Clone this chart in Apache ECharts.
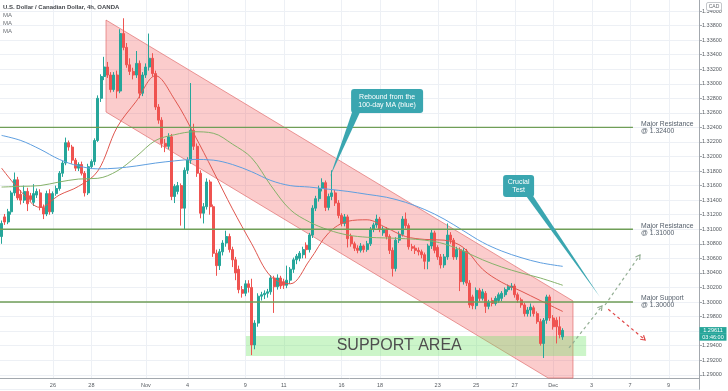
<!DOCTYPE html>
<html>
<head>
<meta charset="utf-8">
<script src="https://cdn.jsdelivr.net/npm/echarts@6.0.0/dist/echarts.min.js"></script>
<style>
html,body{margin:0;padding:0;background:#ffffff;}
#chart{width:728px;height:391px;}
</style>
</head>
<body>
<div id="chart"></div>
<script>
// ---------------- DATA ----------------
const opens = [
1.3090,1.3117,1.3110,1.3124,1.3150,1.3168,1.3148,1.3140,1.3152,1.3146,
1.3137,1.3147,1.3150,1.3130,1.3121,1.3149,1.3124,1.3149,1.3156,1.3177,
1.3191,1.3219,1.3213,1.3195,1.3184,1.3189,1.3177,1.3150,1.3186,1.3193,
1.3222,1.3280,1.3310,1.3323,1.3312,1.3292,1.3312,1.3290,1.3369,1.3350,
1.3326,1.3317,1.3312,1.3328,1.3287,1.3312,1.3323,1.3335,1.3314,1.3268,
1.3250,1.3218,1.3214,1.3227,1.3145,1.3152,1.3160,1.3129,1.3181,1.3195,
1.3236,1.3214,1.3177,1.3122,1.3131,1.3165,1.3131,1.3067,1.3050,1.3069,
1.3081,1.3090,1.3072,1.3058,1.3045,1.3017,1.3012,1.3025,1.3020,1.2941,
1.2971,1.3008,1.3010,1.3012,1.3014,1.3033,1.3021,1.3033,1.3028,1.3023,
1.3030,1.3045,1.3058,1.3060,1.3065,1.3078,1.3072,1.3092,1.3129,1.3142,
1.3156,1.3164,1.3130,1.3145,1.3150,1.3136,1.3119,1.3108,1.3117,1.3090,
1.3080,1.3074,1.3071,1.3077,1.3072,1.3080,1.3100,1.3106,1.3114,1.3095,
1.3100,1.3090,1.3071,1.3046,1.3085,1.3093,1.3114,1.3105,1.3076,1.3074,
1.3071,1.3069,1.3065,1.3056,1.3077,1.3095,1.3075,1.3062,1.3051,1.3062,
1.3092,1.3085,1.3062,1.3072,1.3028,1.3070,1.3026,1.3007,1.2995,1.3016,
1.3005,1.3012,1.2994,1.3002,1.2998,1.3002,1.3005,1.3010,1.3017,1.3020,
1.3022,1.3010,1.3003,1.2996,1.2984,1.2989,1.2992,1.2984,1.2973,1.2943,
1.2975,1.3007,1.2978,1.2975,1.2966,1.2952];
const closes = [
1.3108,1.3110,1.3124,1.3150,1.3168,1.3143,1.3140,1.3152,1.3135,1.3141,
1.3149,1.3152,1.3130,1.3121,1.3149,1.3124,1.3149,1.3156,1.3177,1.3191,
1.3219,1.3213,1.3195,1.3184,1.3189,1.3177,1.3150,1.3186,1.3193,1.3222,
1.3280,1.3310,1.3323,1.3312,1.3292,1.3312,1.3290,1.3369,1.3350,1.3326,
1.3317,1.3312,1.3328,1.3287,1.3312,1.3323,1.3335,1.3314,1.3268,1.3250,
1.3218,1.3214,1.3227,1.3145,1.3159,1.3160,1.3129,1.3181,1.3195,1.3236,
1.3214,1.3177,1.3122,1.3131,1.3165,1.3131,1.3067,1.3050,1.3069,1.3081,
1.3090,1.3072,1.3058,1.3040,1.3017,1.3012,1.3025,1.3020,1.2941,1.2971,
1.3008,1.3010,1.3012,1.3014,1.3033,1.3021,1.3033,1.3022,1.3023,1.3030,
1.3045,1.3058,1.3063,1.3067,1.3072,1.3072,1.3092,1.3129,1.3142,1.3156,
1.3164,1.3130,1.3145,1.3150,1.3136,1.3119,1.3108,1.3117,1.3087,1.3080,
1.3074,1.3071,1.3077,1.3072,1.3080,1.3100,1.3106,1.3114,1.3100,1.3100,
1.3090,1.3071,1.3046,1.3085,1.3093,1.3114,1.3105,1.3076,1.3074,1.3071,
1.3069,1.3065,1.3056,1.3077,1.3095,1.3071,1.3062,1.3051,1.3062,1.3092,
1.3085,1.3062,1.3072,1.3028,1.3070,1.3026,1.2996,1.2995,1.3016,1.3005,
1.3014,1.2994,1.3000,1.2998,1.3005,1.3010,1.3012,1.3017,1.3021,1.3022,
1.3010,1.3003,1.2996,1.2984,1.2989,1.2993,1.2984,1.2973,1.2943,1.2975,
1.3007,1.2978,1.2966,1.2966,1.2955,1.2961];
const highs = [
1.3112,1.3121,1.3128,1.3153,1.3178,1.3172,1.3154,1.3160,1.3157,1.3150,
1.3162,1.3156,1.3155,1.3134,1.3153,1.3155,1.3152,1.3160,1.3180,1.3194,
1.3226,1.3222,1.3216,1.3198,1.3192,1.3193,1.3180,1.3190,1.3196,1.3225,
1.3284,1.3313,1.3337,1.3330,1.3316,1.3316,1.3318,1.3375,1.3390,1.3356,
1.3335,1.3322,1.3345,1.3332,1.3316,1.3328,1.3369,1.3342,1.3318,1.3272,
1.3254,1.3224,1.3232,1.3231,1.3162,1.3165,1.3163,1.3185,1.3199,1.3301,
1.3245,1.3218,1.3181,1.3136,1.3170,1.3168,1.3134,1.3072,1.3073,1.3085,
1.3098,1.3094,1.3076,1.3062,1.3050,1.3022,1.3030,1.3030,1.3032,1.2975,
1.3012,1.3014,1.3016,1.3018,1.3037,1.3036,1.3038,1.3036,1.3032,1.3050,
1.3048,1.3061,1.3066,1.3070,1.3076,1.3082,1.3095,1.3133,1.3146,1.3160,
1.3170,1.3167,1.3149,1.3181,1.3154,1.3140,1.3122,1.3121,1.3120,1.3094,
1.3083,1.3078,1.3081,1.3079,1.3084,1.3103,1.3109,1.3120,1.3117,1.3104,
1.3103,1.3093,1.3075,1.3089,1.3097,1.3118,1.3123,1.3108,1.3080,1.3078,
1.3075,1.3072,1.3068,1.3080,1.3099,1.3098,1.3078,1.3066,1.3066,1.3108,
1.3096,1.3088,1.3076,1.3075,1.3074,1.3073,1.3030,1.3010,1.3020,1.3019,
1.3018,1.3015,1.3003,1.3006,1.3008,1.3013,1.3015,1.3020,1.3024,1.3026,
1.3025,1.3013,1.3006,1.2999,1.2993,1.2998,1.2995,1.2987,1.2977,1.2978,
1.3010,1.3010,1.2982,1.2979,1.2980,1.2964];
const lows = [
1.3080,1.3106,1.3107,1.3120,1.3146,1.3140,1.3134,1.3136,1.3125,1.3138,
1.3132,1.3143,1.3126,1.3114,1.3118,1.3120,1.3121,1.3146,1.3153,1.3172,
1.3188,1.3208,1.3190,1.3180,1.3180,1.3174,1.3145,1.3147,1.3183,1.3188,
1.3220,1.3275,1.3305,1.3308,1.3288,1.3289,1.3280,1.3287,1.3346,1.3322,
1.3312,1.3306,1.3308,1.3280,1.3283,1.3308,1.3318,1.3310,1.3264,1.3245,
1.3212,1.3206,1.3210,1.3140,1.3136,1.3148,1.3105,1.3100,1.3176,1.3190,
1.3209,1.3172,1.3115,1.3108,1.3127,1.3120,1.3062,1.3036,1.3044,1.3064,
1.3076,1.3068,1.3048,1.3030,1.3012,1.3006,1.3008,1.3013,1.2927,1.2935,
1.2966,1.3002,1.3004,1.3006,1.3010,1.2985,1.3017,1.3018,1.3018,1.3019,
1.3025,1.3040,1.3052,1.3056,1.3060,1.3060,1.3068,1.3088,1.3125,1.3138,
1.3152,1.3125,1.3126,1.3140,1.3132,1.3115,1.3104,1.3104,1.3075,1.3076,
1.3070,1.3067,1.3068,1.3068,1.3069,1.3077,1.3096,1.3102,1.3096,1.3091,
1.3086,1.3066,1.3035,1.3042,1.3081,1.3090,1.3101,1.3072,1.3070,1.3066,
1.3064,1.3060,1.3045,1.3045,1.3073,1.3067,1.3058,1.3046,1.3047,1.3058,
1.3080,1.3058,1.3058,1.3015,1.3024,1.3022,1.2992,1.2990,1.2990,1.3001,
1.3002,1.2985,1.2990,1.2994,1.2995,1.2999,1.3001,1.3007,1.3014,1.3016,
1.3006,1.2999,1.2992,1.2980,1.2980,1.2980,1.2980,1.2970,1.2940,1.2923,
1.2970,1.2974,1.2962,1.2943,1.2950,1.2948];

// moving averages at these bar positions
const maIdx   = [0,6,12,18,24,30,36,42,48,54,60,66,72,78,84,90,96,102,108,114,120,126,132,138,144,150,156,162,168,175];
const maRed   = [1.3184,1.3152,1.3130,1.3147,1.3159,1.3180,1.3240,1.3276,1.3311,1.3278,1.3231,1.3180,1.3128,1.3080,1.3035,1.3025,1.3057,1.3095,1.3111,1.3113,1.3102,1.3090,1.3086,1.3085,1.3075,1.3045,1.3027,1.3015,1.3002,1.2987];
const maGreen = [1.3158,1.3159,1.3160,1.3165,1.3169,1.3170,1.3180,1.3200,1.3222,1.3230,1.3234,1.3232,1.3217,1.3198,1.3160,1.3127,1.3110,1.3099,1.3092,1.3089,1.3088,1.3087,1.3085,1.3080,1.3070,1.3058,1.3048,1.3040,1.3033,1.3023];
const maBlue  = [1.3229,1.3222,1.3210,1.3196,1.3187,1.3183,1.3184,1.3187,1.3191,1.3194,1.3196,1.3195,1.3189,1.3179,1.3167,1.3160,1.3158,1.3155,1.3152,1.3148,1.3144,1.3137,1.3127,1.3114,1.3098,1.3082,1.3070,1.3061,1.3054,1.3049];

// x axis (bars) and tick labels
const barCount  = 218;
const xTickBars = [16,28,45,58,76,88,106,118,136,148,160,172,184,196,208];
const xTickText = ['26','28','Nov','4','9','11','16','18','23','25','27','Dec','3','7','9'];

// y axis
const yMin = 1.288, yMax = 1.342, yStep = 0.002, axisFloor = 1.28955;

// annotations (bar index, price)
const channelIdx = [32.56, 178.2, 178.2, 170.45, 32.56];
const channelPx  = [1.33876, 1.30014, 1.28955, 1.28955, 1.32612];
const supportIdx = [76.2, 182.3];
const supportPx  = [1.29533, 1.29258];
const supportTextAt = [124.0, 1.29395];
const levelPx    = [1.324, 1.310, 1.300];
const levelTitle = ['Major Resistance', 'Major Resistance', 'Major Support'];
const levelValue = ['@ 1.32400', '@ 1.31000', '@ 1.30000'];
const levelEndIdx = 196.9, levelLabelIdx = 199.4;
const upArrow1 = [[176.96, 1.29368],[187.25, 1.29945]];
const upArrow2 = [[188.2, 1.29959],[199.1, 1.30646]];
const downArrow = [[189.2, 1.29900],[200.7, 1.29478]];
const callout1 = {tip:[102.4, 1.31718], box:[109.0, 1.32928], lines:['Rebound from the','100-day MA (blue)']};
const callout2 = {tip:[186.6, 1.30069], box:[156.4, 1.31746], lines:['Crucial','Test']};
const lastPrice = '1.29611', countdown = '03:46:00';

// ---------------- CHART ----------------
const FONT = '"Liberation Sans", Arial, sans-serif';
const gridTop = -3.55, gridH = 392.85, gridRight = 29;
const xOffset = -(axisFloor - yMin) / (yMax - yMin) * gridH;

const categories = [];
for (let i = 0; i < barCount; i++) {
  const k = xTickBars.indexOf(i);
  categories.push(k >= 0 ? xTickText[k] : '');
}
const candleData = opens.map((o, i) => [o, closes[i], lows[i], highs[i]]);
const maLine = arr => maIdx.map((ix, k) => [ix, arr[k]]);

const chart = echarts.init(document.getElementById('chart'), null, {renderer: 'canvas'});

function bgRender(params, api) {
  const P = (i, p) => { const a = api.coord([0, p]), b = api.coord([1, p]); return [a[0] + (b[0] - a[0]) * i, a[1]]; };
  const ch = [];
  xTickBars.forEach(ix => {
    const t = P(ix, yMax), b = P(ix, axisFloor);
    ch.push({type: 'line', shape: {x1: Math.round(t[0]) + 0.5, y1: t[1], x2: Math.round(t[0]) + 0.5, y2: b[1]}, style: {stroke: '#edf0f5', lineWidth: 1}});
  });
  ch.push({type: 'polygon', shape: {points: channelIdx.map((ix, k) => P(ix, channelPx[k]))},
    style: {fill: 'rgba(242,80,80,0.29)', stroke: 'rgba(220,90,90,0.75)', lineWidth: 0.8}});
  const s0 = P(supportIdx[0], supportPx[0]), s1 = P(supportIdx[1], supportPx[1]);
  ch.push({type: 'rect', shape: {x: s0[0], y: s0[1], width: s1[0] - s0[0], height: s1[1] - s0[1]},
    style: {fill: 'rgba(110,225,100,0.35)'}});
  return {type: 'group', children: ch};
}

chart.setOption({
  animation: false,
  backgroundColor: '#ffffff',
  grid: {left: 0, right: gridRight, top: gridTop, height: gridH, containLabel: false, outerBoundsMode: 'none'},
  xAxis: {
    type: 'category', data: categories, boundaryGap: true, offset: xOffset,
    axisLine: {show: true, lineStyle: {color: '#a3a8ae', width: 1}},
    axisTick: {show: false},
    axisLabel: {interval: (idx, val) => val !== '', color: '#555a60', fontSize: 5.5, fontFamily: FONT, margin: 4},
    splitLine: {show: false}
  },
  yAxis: {
    type: 'value', position: 'right', min: yMin, max: yMax, interval: yStep,
    axisLine: {show: true, lineStyle: {color: '#a3a8ae', width: 1}},
    axisTick: {show: true, length: 3, lineStyle: {color: '#a3a8ae'}},
    axisLabel: {color: '#555a60', fontSize: 5.5, fontFamily: FONT, margin: 3, showMinLabel: false, showMaxLabel: false,
      formatter: v => v.toFixed(5)},
    splitLine: {show: true, lineStyle: {color: '#edf0f5', width: 1}}
  },
  series: [
    {type: 'custom', name: 'bg', z: 1, silent: true, clip: false, data: [[0, 1.3]], renderItem: bgRender},
    {type: 'candlestick', name: 'USDCAD', z: 3, data: candleData, barWidth: 2.5,
      itemStyle: {color: '#26a69a', color0: '#ef5350', borderColor: '#26a69a', borderColor0: '#ef5350', borderWidth: 1}},
    {type: 'line', name: 'MA fast', z: 4, data: maLine(maRed), symbol: 'none', smooth: 0.35, connectNulls: true,
      lineStyle: {color: '#e0574f', width: 1}},
    {type: 'line', name: 'MA mid', z: 4, data: maLine(maGreen), symbol: 'none', smooth: 0.35, connectNulls: true,
      lineStyle: {color: '#86b26a', width: 1}},
    {type: 'line', name: 'MA slow', z: 4, data: maLine(maBlue), symbol: 'none', smooth: 0.35, connectNulls: true,
      lineStyle: {color: '#5f9fe0', width: 1}}
  ]
});

// ---------------- overlays ----------------
function px(i, p) {
  const a = chart.convertToPixel({seriesIndex: 1}, [0, p]);
  const b = chart.convertToPixel({seriesIndex: 1}, [1, p]);
  return [a[0] + (b[0] - a[0]) * i, a[1]];
}
const g = [];
const TEAL = '#3aa6b0';

// title + legend
g.push({type: 'text', z: 60, x: 3, y: 7, style: {text: 'U.S. Dollar / Canadian Dollar, 4h, OANDA', fill: '#45484d', font: 'bold 6px ' + FONT, textVerticalAlign: 'middle'}});
['MA', 'MA', 'MA'].forEach((t, k) => g.push({type: 'text', z: 60, x: 3, y: 15 + k * 8, style: {text: t, fill: '#6b6f75', font: '6px ' + FONT, textVerticalAlign: 'middle'}}));

// levels
levelPx.forEach((L, k) => {
  const a = px(-0.5, L), b = px(levelEndIdx, L), t = px(levelLabelIdx, L);
  g.push({type: 'line', z: 50, shape: {x1: a[0], y1: a[1], x2: b[0], y2: b[1]}, style: {stroke: '#6f9e57', lineWidth: 1.3}});
  g.push({type: 'text', z: 60, x: t[0], y: t[1], style: {text: levelTitle[k] + '\n' + levelValue[k], fill: '#56606c', font: '6.8px ' + FONT, lineHeight: 7, textVerticalAlign: 'middle', textAlign: 'left'}});
});

// support area text
const st = px(supportTextAt[0], supportTextAt[1]);
g.push({type: 'text', z: 60, x: st[0], y: st[1], style: {text: 'SUPPORT AREA', fill: '#4e4e4e', font: '16px ' + FONT, textAlign: 'center', textVerticalAlign: 'middle'}});

// dashed arrows
function arrow(seg, color) {
  const a = px(seg[0][0], seg[0][1]), b = px(seg[1][0], seg[1][1]);
  g.push({type: 'line', z: 60, shape: {x1: a[0], y1: a[1], x2: b[0], y2: b[1]}, style: {stroke: color, lineWidth: 1.2, lineDash: [3, 3]}});
  const ang = Math.atan2(b[1] - a[1], b[0] - a[0]), len = 5, s = 0.55;
  g.push({type: 'polyline', z: 60, shape: {points: [
    [b[0] - len * Math.cos(ang - s), b[1] - len * Math.sin(ang - s)], [b[0], b[1]],
    [b[0] - len * Math.cos(ang + s), b[1] - len * Math.sin(ang + s)]]}, style: {stroke: color, lineWidth: 1.2, fill: null}});
}
arrow(upArrow1, '#93ae93');
arrow(upArrow2, '#93ae93');
arrow(downArrow, '#e04848');

// callouts
function callout(c, w, h, base, fs, lh) {
  const b = px(c.box[0], c.box[1]), t = px(c.tip[0], c.tip[1]);
  g.push({type: 'polygon', z: 70, shape: {points: [[b[0] + base[0], b[1] + h - 1], [b[0] + base[1], b[1] + h - 1], t]}, style: {fill: TEAL}});
  g.push({type: 'rect', z: 70, shape: {x: b[0], y: b[1], width: w, height: h, r: 3}, style: {fill: TEAL}});
  g.push({type: 'text', z: 71, x: b[0] + w / 2, y: b[1] + h / 2, style: {text: c.lines.join('\n'), fill: '#ffffff', font: fs + 'px ' + FONT, lineHeight: lh, textAlign: 'center', textVerticalAlign: 'middle'}});
}
callout(callout1, 72, 24, [1, 9], 7, 8);
callout(callout2, 31, 22, [23, 30], 7, 7.5);

// CAD box
g.push({type: 'rect', z: 80, shape: {x: 706.5, y: 2.5, width: 15, height: 8, r: 1.5}, style: {fill: '#ffffff', stroke: '#b5b9be', lineWidth: 0.8}});
g.push({type: 'text', z: 81, x: 714, y: 6.6, style: {text: 'CAD', fill: '#666a70', font: '5px ' + FONT, textAlign: 'center', textVerticalAlign: 'middle'}});

// price badges
const lp = px(175, closes[175]);
g.push({type: 'rect', z: 80, shape: {x: 699.5, y: lp[1] - 3.3, width: 27, height: 6.8}, style: {fill: '#26a69a'}});
g.push({type: 'text', z: 81, x: 713, y: lp[1] + 0.1, style: {text: lastPrice, fill: '#ffffff', font: '5.5px ' + FONT, textAlign: 'center', textVerticalAlign: 'middle'}});
g.push({type: 'rect', z: 80, shape: {x: 699.5, y: lp[1] + 3.5, width: 27, height: 6.8}, style: {fill: '#26a69a'}});
g.push({type: 'text', z: 81, x: 713, y: lp[1] + 7, style: {text: countdown, fill: '#ffffff', font: '5.5px ' + FONT, textAlign: 'center', textVerticalAlign: 'middle'}});

chart.setOption({graphic: {elements: g}});
</script>
</body>
</html>
